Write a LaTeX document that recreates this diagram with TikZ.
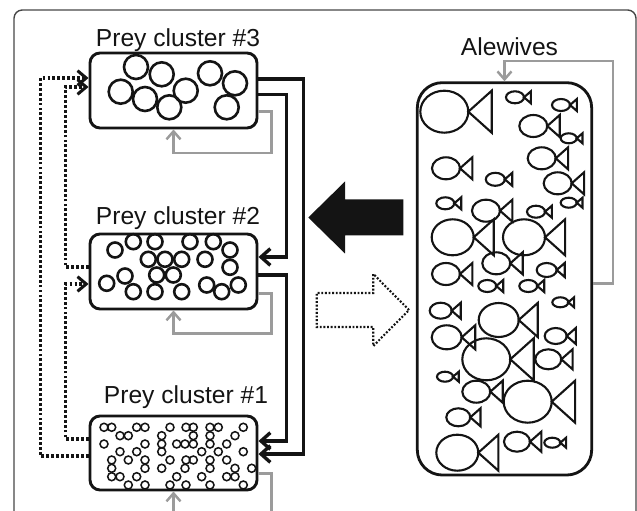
\documentclass[tikz,border=0pt]{standalone}
\usepackage{fontspec}
\setmainfont{Liberation Sans}
\usetikzlibrary{arrows.meta,calc}
\definecolor{FwInk}{RGB}{20,20,20}
\definecolor{FwGray}{RGB}{155,155,155}
\definecolor{FwFrame}{RGB}{70,70,70}
\tikzset{
  fw/box/.style={
    draw=FwInk,
    line width=2.5pt,
    rounded corners=0.3cm,
    fill=white,
    inner sep=0pt,
    minimum width=5.01cm,
    minimum height=2.25cm
  },
  fw/tank/.style={
    draw=FwInk,
    line width=2.4pt,
    rounded corners=0.75cm,
    inner sep=0pt,
    minimum width=5.23cm,
    minimum height=11.77cm
  },
  fw/label/.style={font=\fontsize{21}{25}\selectfont, text=FwInk, anchor=base, inner sep=0pt},
  fw/link/.style={-{Straight Barb[length=2.8mm,width=5mm]}, line width=2.9pt, draw=FwInk},
  fw/loop/.style={-{Straight Barb[length=2.4mm,width=4.2mm]}, line width=2.1pt, draw=FwGray},
  fw/back/.style={-{Straight Barb[length=2.6mm,width=4.4mm]}, line width=2.6pt, dash pattern=on 2.4pt off 1.8pt, draw=FwInk},
  fw/big/.style={line width=2.2pt, draw=FwInk},
  fw/small/.style={line width=1.3pt, draw=FwInk},
  fw/fish/.style={line width=1.8pt, draw=FwInk, line join=miter}
}
% one fish: body centre x, y and body half length s
\newcommand{\fwfish}[3]{%
  \draw[fw/fish] (#1,#2) ellipse [x radius=#3, y radius={#3-3}]
    ({#1+#3},#2) -- ++({1.1*#3-3},{#3-3}) -- ++(0,{-2*#3+6}) -- cycle;}

\begin{document}
\begin{tikzpicture}[x=0.03cm,y=-0.03cm]
  \useasboundingbox (0,0) rectangle (637,511);
  \clip (0,0) rectangle (637,511);
  \draw[FwFrame, line width=1.2pt, rounded corners=0.25cm] (14,10) rectangle (636,560);

  % prey clusters
  \node[fw/box] (c3) at (173.5,90.5) {};
  \node[fw/box] (c2) at (173.5,271.5) {};
  \node[fw/box, minimum height=2.22cm] (c1) at (173.5,453) {};
  \node[fw/label] (t3) at (178,46.7) {Prey cluster \#3};
  \node[fw/label] (t2) at (178,225) {Prey cluster \#2};
  \node[fw/label] (t1) at (186,403.3) {Prey cluster \#1};

  \foreach \x/\y in {136/67, 161.7/74.3, 120.7/91.7, 145/99, 169.3/107.3,
                     185.7/90.7, 210/73.3, 235/83.3, 226.7/107.3}
    \draw[fw/big] (\x,\y) circle [radius=12];

  \foreach \x/\y in {115/250, 133.3/241.7, 155/241.7, 190/241.7, 213.3/241.7,
                     230/250, 148.3/259.3, 165/259.3, 181.7/259.3, 205/259.3,
                     230/267.3, 156.7/275, 173.3/275, 106.7/283.3, 125/276,
                     133.3/291.7, 155/291.7, 181.7/291.7, 206.7/285,
                     221.7/291.7, 238.3/285}
    \draw[fw/big] (\x,\y) circle [radius=7.5];

  \foreach \x/\y in {104/427.3, 111.7/427.3, 136.7/427.3, 145/427.3, 170/427.3,
                     186/427.3, 193.3/427.3, 210/427.3, 218.3/427.3, 243.3/427.3,
                     120/435.7, 128.3/435.7, 161.7/435.7, 193.3/435.7, 210/435.7, 235/435.7,
                     104/444, 145/444, 161.7/444, 176.7/444, 185/444, 193.3/444,
                     210/444, 226.7/444,
                     120/451.7, 136.7/451.7, 161.7/451.7, 201.7/451.7, 218.3/451.7, 243.3/451.7,
                     111.7/460, 128.3/460, 145/460, 170/460, 186/460, 193.3/460,
                     210/460, 226.7/460,
                     111.7/468.3, 145/468.3, 161.7/468.3, 185/468.3, 210/468.3,
                     235/468.3, 251.7/468.3,
                     111.7/476.7, 120/476.7, 136.7/476.7, 176.7/476.7, 201.7/476.7,
                     226.7/476.7, 235/476.7,
                     128.3/485, 145/485, 170/485, 186/485, 210/485, 243.3/485}
    \draw[fw/small] (\x,\y) circle [radius=4];

  % alewives
  \node[fw/tank] (alw) at (504.5,278.85) {};
  \node[fw/label] (ta) at (509.5,56) {Alewives};
  \foreach \x/\y/\s in {444.3/111.7/24, 515/97.3/9, 561/105/9, 533.3/126/14,
                        568.7/138.3/8, 541.7/158.3/14, 446/168.3/14, 495.3/179.3/9.5,
                        557.7/183.3/14, 445.3/203.3/9, 486/210.7/14, 536/211.7/9,
                        568.7/202.7/8, 452.7/237.3/21, 524/237.3/21, 496.3/263.3/14,
                        446/274/14, 546.7/270/10, 487.3/286/9, 528.3/286/9,
                        560.3/302.3/8, 440.7/310.7/11, 498.7/320/20, 446.7/337.3/15,
                        555.7/336/11, 486.3/359.3/24, 548.3/359.3/13, 445/376.7/8,
                        476.3/391.7/14, 527.7/401.7/24, 458.3/417.3/12,
                        457.3/452.7/21, 517/441.7/13, 552.3/442.7/8}
    \fwfish{\x}{\y}{\s};

  % predation and its absence
  \fill[FwInk] (308.3,217.5) -- (345,181.5) -- (345,199.5) -- (403.3,199.5)
    -- (403.3,235.5) -- (345,235.5) -- (345,253.5) -- cycle;
  \draw[FwInk, line width=1.8pt, dash pattern=on 1.6pt off 1.5pt]
    (409,310) -- (373.3,274) -- (373.3,293) -- (316.7,293) -- (316.7,327)
    -- (373.3,327) -- (373.3,346) -- cycle;

  % links between clusters
  \draw[fw/link] ($(c3.east)+(0,-11.5)$) -- ++(45,0) |- ($(c1.east)+(0,1)$);
  \draw[fw/link] ($(c3.east)+(0,3.8)$) -- ++(28,0) |- ($(c2.east)+(0,-14.5)$);
  \draw[fw/link] ($(c2.east)+(0,3.5)$) -- ++(28,0) |- ($(c1.east)+(0,-12)$);

  \draw[fw/back] ($(c1.west)+(0,-14)$) -- ++(-23,0) |- ($(c2.west)+(0,12.5)$);
  \draw[fw/back] ($(c2.west)+(0,-4.5)$) -- ++(-23,0) |- ($(c3.west)+(0,-3.5)$);
  \draw[fw/back] ($(c1.west)+(0,3)$) -- ++(-48,0) |- ($(c3.west)+(0,-12.5)$);

  % self loops
  \draw[fw/loop] ($(c3.east)+(0,21)$) -- ++(13,0) -- ++(0,41.6) -| (c3.south);
  \draw[fw/loop] ($(c2.east)+(0,21.8)$) -- ++(13,0) -- ++(0,40) -| (c2.south);
  \draw[fw/loop] ($(c1.east)+(0,20.3)$) -- ++(13,0) -- ++(0,80) -| (c1.south);
  \draw[fw/loop] ($(alw.east)+(0,4.5)$) -- ++(20,0) -- ++(0,-222.3) -| (alw.north);
\end{tikzpicture}
\end{document}
